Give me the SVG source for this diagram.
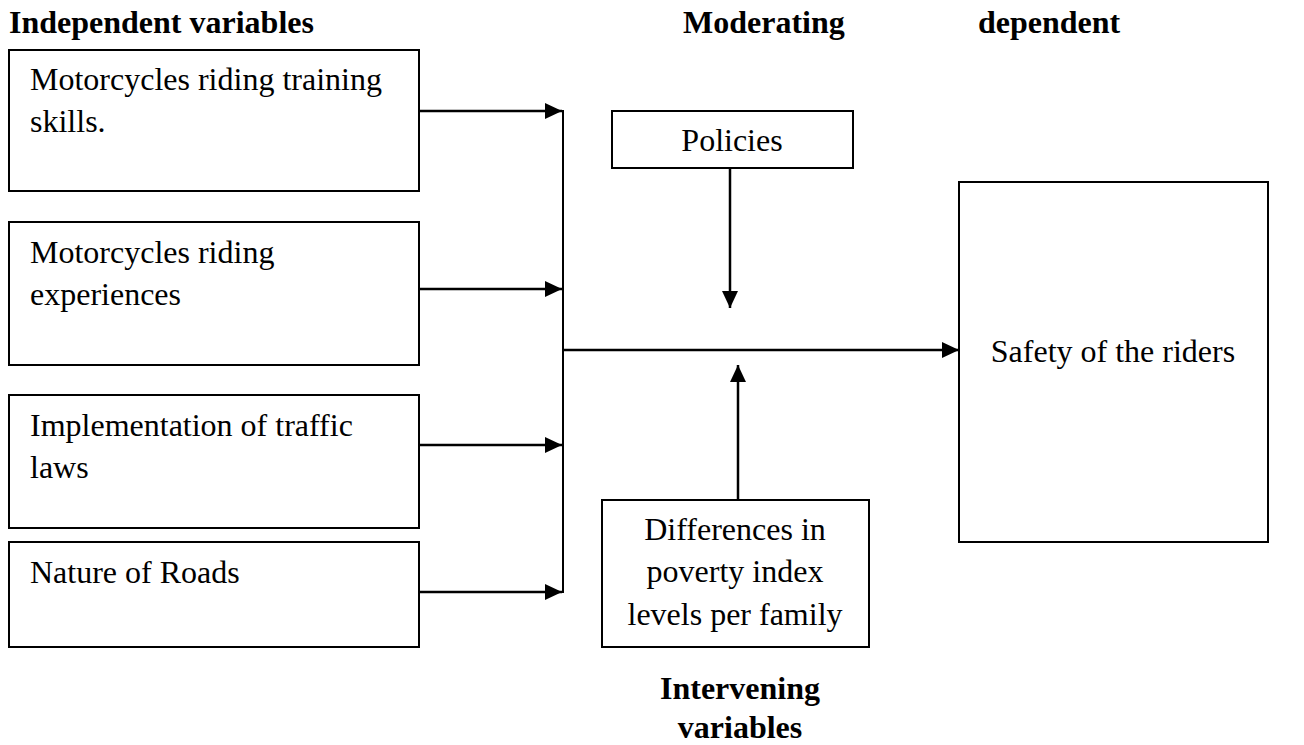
<svg xmlns="http://www.w3.org/2000/svg" width="1304" height="745" viewBox="0 0 1304 745">
<style>
  .box { fill: #fff; stroke: #000; stroke-width: 2; }
  .t { font-family: "Liberation Serif", "Times New Roman", serif; font-size: 32px; fill: #000; }
  .h { font-family: "Liberation Serif", "Times New Roman", serif; font-size: 32px; font-weight: bold; fill: #000; }
  .c { text-anchor: middle; }
  .ln { stroke: #000; stroke-width: 2.5; fill: none; }
</style>
<defs>
  <marker id="arr" markerUnits="userSpaceOnUse" markerWidth="18" markerHeight="18" refX="17" refY="8" orient="auto">
    <path d="M0,0 L17,8 L0,16 z" fill="#000"/>
  </marker>
</defs>
<rect width="1304" height="745" fill="#fff"/>

<g id="headings">
  <text class="h" x="9" y="33">Independent variables</text>
  <text class="h" x="683" y="33">Moderating</text>
  <text class="h" x="978" y="33">dependent</text>
  <text class="h c" x="740" y="699">Intervening</text>
  <text class="h c" x="740" y="738">variables</text>
</g>

<g id="connectors">
  <line class="ln" x1="419" y1="111" x2="562" y2="111" marker-end="url(#arr)"/>
  <line class="ln" x1="419" y1="289" x2="562" y2="289" marker-end="url(#arr)"/>
  <line class="ln" x1="419" y1="445" x2="562" y2="445" marker-end="url(#arr)"/>
  <line class="ln" x1="419" y1="592" x2="562" y2="592" marker-end="url(#arr)"/>
  <line class="ln" x1="563" y1="110" x2="563" y2="593" style="stroke-width:2"/>
  <line class="ln" x1="563" y1="350" x2="959" y2="350" marker-end="url(#arr)"/>
  <line class="ln" x1="730" y1="168" x2="730" y2="308" marker-end="url(#arr)"/>
  <line class="ln" x1="738" y1="500" x2="738" y2="365" marker-end="url(#arr)"/>
</g>

<g id="node-training">
  <rect class="box" x="9" y="50" width="410" height="141"/>
  <text class="t" x="30" y="90">Motorcycles riding training</text>
  <text class="t" x="30" y="132">skills.</text>
</g>
<g id="node-experience">
  <rect class="box" x="9" y="222" width="410" height="143"/>
  <text class="t" x="30" y="263">Motorcycles riding</text>
  <text class="t" x="30" y="305">experiences</text>
</g>
<g id="node-laws">
  <rect class="box" x="9" y="395" width="410" height="133"/>
  <text class="t" x="30" y="436">Implementation of traffic</text>
  <text class="t" x="30" y="478">laws</text>
</g>
<g id="node-roads">
  <rect class="box" x="9" y="542" width="410" height="105"/>
  <text class="t" x="30" y="583">Nature of Roads</text>
</g>
<g id="node-policies">
  <rect class="box" x="612" y="111" width="241" height="57"/>
  <text class="t c" x="732" y="151">Policies</text>
</g>
<g id="node-poverty">
  <rect class="box" x="602" y="500" width="267" height="147"/>
  <text class="t c" x="735" y="540">Differences in</text>
  <text class="t c" x="735" y="582">poverty index</text>
  <text class="t c" x="735" y="625">levels per family</text>
</g>
<g id="node-safety">
  <rect class="box" x="959" y="182" width="309" height="360"/>
  <text class="t c" x="1113" y="362">Safety of the riders</text>
</g>
</svg>
